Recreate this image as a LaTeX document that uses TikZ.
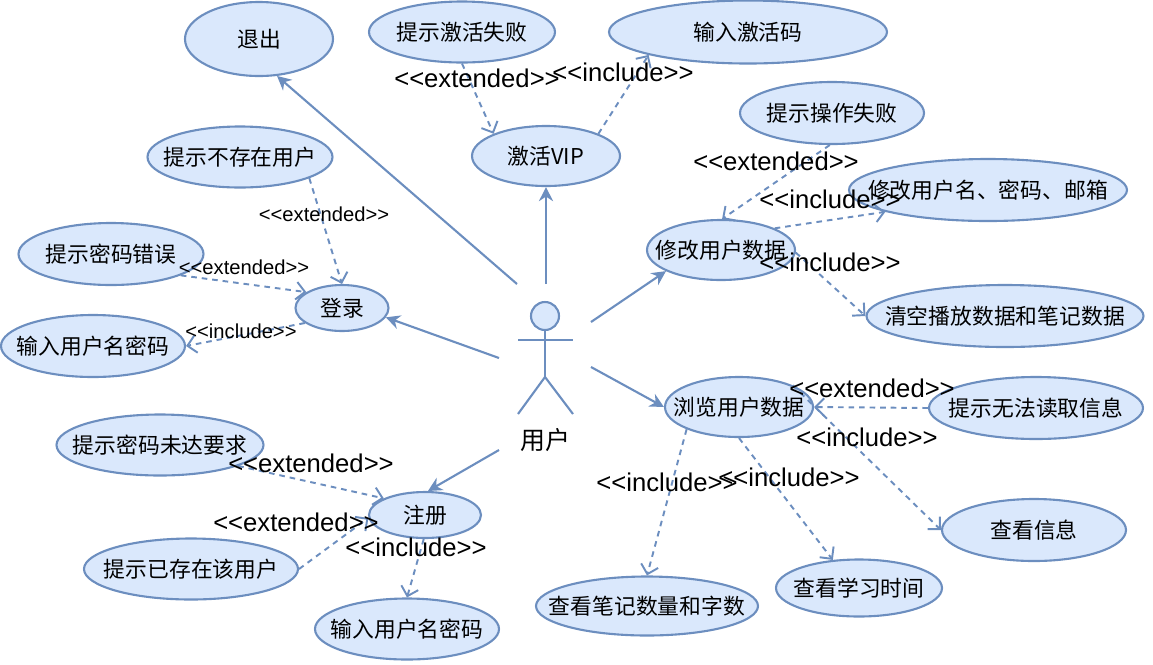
\documentclass[tikz,border=0pt]{standalone}
\usepackage{fontspec}
\setmainfont{Liberation Sans}
\newfontfamily\cjk{Noto Sans CJK SC}
\usetikzlibrary{shapes.geometric,arrows.meta}
\definecolor{umlline}{HTML}{6C8EBF}
\definecolor{umlfill}{HTML}{DAE8FC}
\newcommand{\extlabel}{<{}<extended>{}>}
\newcommand{\inclabel}{<{}<include>{}>}
\newcommand{\uctext}[1]{\makebox[0pt]{#1}}
\tikzset{
	usecase/.style n args={2}{ellipse, draw=umlline, fill=umlfill, line width=1.2pt, inner sep=0pt,
		minimum width=#1*0.02cm, minimum height=#2*0.02cm, font=\cjk\fontsize{12.4}{14}\selectfont},
	assoc/.style={draw=umlline, line width=1.2pt, -{Stealth[length=8pt,width=8pt]}},
	depend/.style={draw=umlline, line width=1.1pt, dash pattern=on 3.2pt off 2.8pt, -{Straight Barb[length=5pt,width=10pt]}},
	biglabel/.style={inner sep=0pt, font=\fontsize{14.6}{16}\selectfont},
	smalllabel/.style={inner sep=0pt, font=\fontsize{11.5}{13}\selectfont}
}
\begin{document}
\begin{tikzpicture}[x=0.02cm, y=-0.02cm]
	    \useasboundingbox (0,0) rectangle (1153,664);
	    % actor
	    \node[circle, draw=umlline, fill=umlfill, line width=1.2pt, inner sep=0pt, minimum size=0.56cm] (head) at (545,316) {};
	    \coordinate (hip) at (545,377);
	    \coordinate (armL) at (518,340);
	    \coordinate (armR) at (573,340);
	    \coordinate (footL) at (518,414);
	    \coordinate (footR) at (573,414);
	    \draw[draw=umlline, line width=1.2pt] (head) -- (hip);
	    \draw[draw=umlline, line width=1.2pt] (armL) -- (armR);
	    \draw[draw=umlline, line width=1.2pt] (footL) -- (hip) -- (footR);
	    \node[inner sep=0pt, font=\cjk\fontsize{14.2}{16}\selectfont] (user) at (545,440) {用户};
	    % free ends of the associations
	    \coordinate (toExit) at (517,284);
	    \coordinate (toVip) at (546,284);
	    \coordinate (toEdit) at (591,322);
	    \coordinate (toLogin) at (499,358);
	    \coordinate (toBrowse) at (591,367);
	    \coordinate (toRegister) at (499,450);
	    % use cases
	    \node[usecase={148}{74}] (exit) at (259,39) {\uctext{退出}};
	    \node[usecase={186}{61}] (vipFail) at (462,32) {\uctext{提示激活失败}};
	    \node[usecase={278}{63}] (vipCode) at (748,32) {\uctext{输入激活码}};
	    \node[usecase={148}{60}] (vip) at (546,156) {\uctext{激活VIP}};
	    \node[usecase={184}{62}] (editFail) at (832,113) {\uctext{提示操作失败}};
	    \node[usecase={278}{62}] (editName) at (988,190) {\uctext{修改用户名、密码、邮箱}};
	    \node[usecase={148}{60}] (edit) at (721,250) {\uctext{修改用户数据}};
	    \node[usecase={277}{62}] (clear) at (1005,316) {\uctext{清空播放数据和笔记数据}};
	    \node[usecase={185}{61}] (noUser) at (240,157) {\uctext{提示不存在用户}};
	    \node[usecase={185}{62}] (wrongPwd) at (111,254) {\uctext{提示密码错误}};
	    \node[usecase={93}{46}] (login) at (342,308) {\uctext{登录}};
	    \node[usecase={184}{62}] (loginInput) at (93,346) {\uctext{输入用户名密码}};
	    \node[usecase={148}{60}] (browse) at (739,407) {\uctext{浏览用户数据}};
	    \node[usecase={214}{62}] (readFail) at (1036,408) {\uctext{提示无法读取信息}};
	    \node[usecase={207}{61}] (weakPwd) at (160,445) {\uctext{提示密码未达要求}};
	    \node[usecase={112}{46}] (register) at (425,515) {\uctext{注册}};
	    \node[usecase={214}{61}] (userExists) at (191,569) {\uctext{提示已存在该用户}};
	    \node[usecase={184}{61}] (regInput) at (407,629) {\uctext{输入用户名密码}};
	    \node[usecase={222}{59}] (notes) at (647,606) {\uctext{查看笔记数量和字数}};
	    \node[usecase={166}{57}] (studyTime) at (859,588) {\uctext{查看学习时间}};
	    \node[usecase={184}{62}] (info) at (1034,530) {\uctext{查看信息}};
	    % associations
	    \draw[assoc] (toExit) -- (exit.-64);
	    \draw[assoc] (toVip) -- (vip.south);
	    \draw[assoc] (toEdit) -- (edit.201);
	    \draw[assoc] (toLogin) -- (login.-12);
	    \draw[assoc] (toBrowse) -- (browse.west);
	    \draw[assoc] (toRegister) -- (register.83);
	    % dependencies
	    \draw[depend] (vipFail.south) -- (vip.157);
	    \draw[depend] (vip.23) -- (vipCode.193);
	    \draw[depend] (editFail.-94) -- (edit.88);
	    \draw[depend] (edit.22) -- (editName.192);
	    \draw[depend] (edit.-2) -- (clear.180);
	    \draw[depend] (noUser.-17) -- (login.north);
	    \draw[depend] (wrongPwd.-17) -- (login.156);
	    \draw[depend] (login.202) -- (loginInput.east);
	    \draw[depend] (readFail.west) -- (browse.east);
	    \draw[depend] (browse.22) -- (info.west);
	    \draw[depend] (browse.-90) -- (studyTime.133);
	    \draw[depend] (browse.203) -- (notes.north);
	    \draw[depend] (weakPwd.-15) -- (register.158);
	    \draw[depend] (userExists.east) -- (register.183);
	    \draw[depend] (register.-93) -- (regInput.north);
	    % stereotypes
	    \node[biglabel] (lblVipFail) at (477,78) {\extlabel};
	    \node[biglabel] (lblVipCode) at (623,72) {\inclabel};
	    \node[biglabel] (lblEditFail) at (776,161) {\extlabel};
	    \node[biglabel] (lblEditName) at (830,199) {\inclabel};
	    \node[biglabel] (lblClear) at (830,262) {\inclabel};
	    \node[biglabel] (lblReadFail) at (872,388) {\extlabel};
	    \node[biglabel] (lblInfo) at (867,437) {\inclabel};
	    \node[biglabel] (lblNotes) at (667,482) {\inclabel};
	    \node[biglabel] (lblTime) at (789,477) {\inclabel};
	    \node[biglabel] (lblWeak) at (311,463) {\extlabel};
	    \node[biglabel] (lblExists) at (296,522) {\extlabel};
	    \node[biglabel] (lblRegInput) at (416,547) {\inclabel};
	    \node[smalllabel] (lblNoUser) at (324,214) {\extlabel};
	    \node[smalllabel] (lblWrong) at (244,267) {\extlabel};
	    \node[smalllabel] (lblLogin) at (241,331) {\inclabel};
\end{tikzpicture}
\end{document}
